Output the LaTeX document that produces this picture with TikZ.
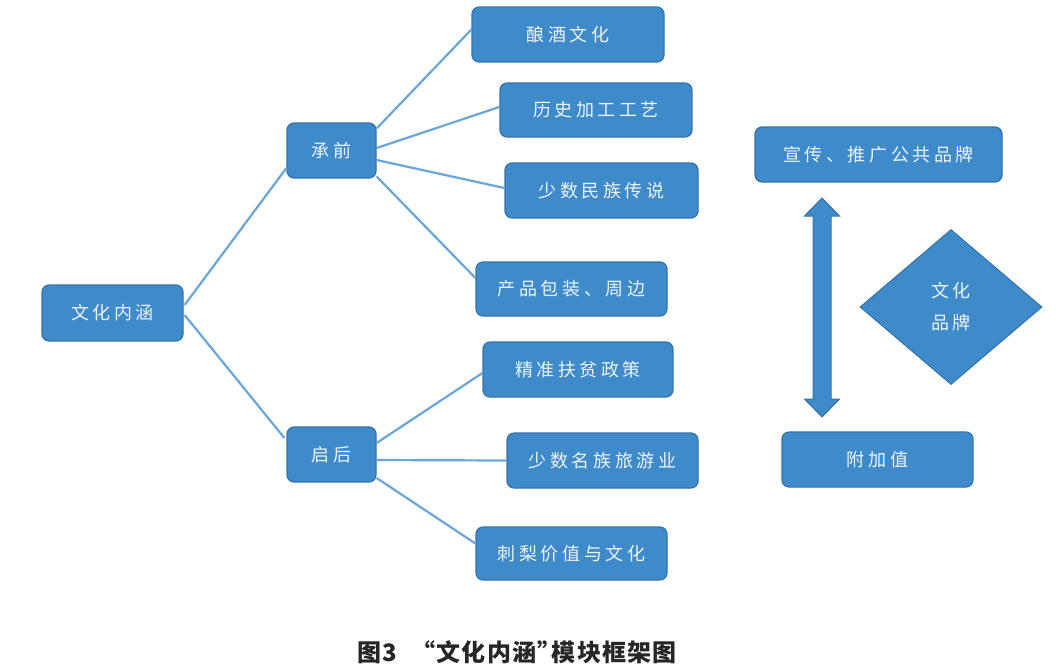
\documentclass[tikz,border=0pt]{standalone}
\usepackage{fontspec}
\newfontfamily\cjk[LetterSpace=20]{Noto Sans CJK SC}
\newfontfamily\cjkcap[LetterSpace=5]{Noto Sans CJK SC}
\usetikzlibrary{shapes.geometric,calc}
\definecolor{boxfill}{HTML}{3F8BCA}
\definecolor{boxline}{HTML}{3573AA}
\definecolor{linkc}{HTML}{6AA6DA}
\definecolor{txt}{HTML}{EEF3F8}
\tikzset{
  box/.style={draw=boxline, line width=1.2pt, fill=boxfill, rounded corners=7pt,
    minimum height=55, inner sep=0pt, text=txt, font=\cjk\fontsize{18}{20}\selectfont},
  link/.style={draw=linkc, line width=2.2pt},
  dia/.style={diamond, draw=boxline, line width=1pt, fill=boxfill, inner sep=0pt,
    minimum width=182, minimum height=155, text=txt, align=center,
    font=\cjk\fontsize{18}{32}\selectfont},
  arrowshape/.style={draw=boxline, line width=1pt, fill=boxfill}
}
\begin{document}
\begin{tikzpicture}[x=1pt,y=-1pt]
\useasboundingbox[fill=white] (0,0) rectangle (1056,670);
% left tree
\node[box, minimum width=141, minimum height=56] (wh) at (112.5,313) {文化内涵};
\node[box, minimum width=89] (cq) at (331.5,150.5) {承前};
\node[box, minimum width=89] (qh) at (331.5,454.5) {启后};
\node[box, minimum width=192] (a1) at (568,34.5) {酿酒文化};
\node[box, minimum width=192, minimum height=54] (a2) at (596,110) {历史加工工艺};
\node[box, minimum width=193] (a3) at (601.5,190.5) {少数民族传说};
\node[box, minimum width=191, minimum height=54] (a4) at (571.5,289) {产品包装、周边};
\node[box, minimum width=190] (b1) at (578,369.5) {精准扶贫政策};
\node[box, minimum width=191] (b2) at (602.5,460.5) {少数名族旅游业};
\node[box, minimum width=191, minimum height=53] (b3) at (571.5,553.5) {刺梨价值与文化};
% right part
\node[box, minimum width=247] (p1) at (878.5,154.5) {宣传、推广公共品牌};
\node[box, minimum width=191] (p2) at (877.5,459.5) {附加值};
\node[dia] (d) at (951,307) {文化\\品牌};
% double arrow
\draw[arrowshape] (822,198) -- (839.5,216) -- (831,216) -- (831,399) -- (839.5,399)
  -- (822,417) -- (804.5,399) -- (813,399) -- (813,216) -- (804.5,216) -- cycle;
% connectors
\draw[link] ($(wh.east)+(1,-8)$) -- ($(cq.west)+(0,17.5)$);
\draw[link] ($(wh.east)+(1,2)$) -- ($(qh.west)+(-2,-16.5)$);
\draw[link] ($(cq.east)+(0,-22)$) -- ($(a1.west)+(0,-5)$);
\draw[link] ($(cq.east)+(0,-2.5)$) -- ($(a2.west)+(0,-3)$);
\draw[link] ($(cq.east)+(0,9.5)$) -- ($(a3.west)+(0,-2.5)$);
\draw[link] ($(cq.east)+(0,26)$) -- ($(a4.west)+(0,-11)$);
\draw[link] ($(qh.east)+(0,-11.5)$) -- ($(b1.west)+(0,3.5)$);
\draw[link] ($(qh.east)+(0,5.5)$) -- ($(b2.west)+(0,0)$);
\draw[link] ($(qh.east)+(0,23.5)$) -- ($(b3.west)+(0,-10)$);
% caption
\node[font=\cjkcap\bfseries\fontsize{24}{28}\selectfont, text=black!85] (cap) at (517,652)
  {图3\hspace{0.6em}“文化内涵”\kern-0.4em 模块框架图};
\end{tikzpicture}
\end{document}
